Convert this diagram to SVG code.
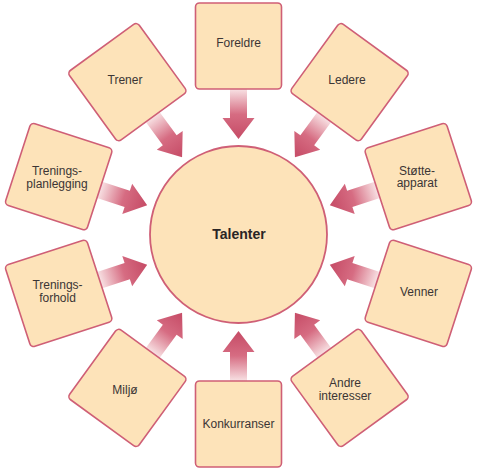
<svg xmlns="http://www.w3.org/2000/svg" width="480" height="476" viewBox="0 0 480 476">
  <style>
    .box { fill: #fde3b9; stroke: #cf5f76; stroke-width: 1.6; }
    .hub { fill: #fde3b9; stroke: #cf5f76; stroke-width: 1.8; }
    .lbl { font-family: "Liberation Sans", Arial, sans-serif; font-size: 12px; fill: #3b3535; text-anchor: middle; }
    .hubl { font-family: "Liberation Sans", Arial, sans-serif; font-size: 14px; font-weight: bold; fill: #2a2525; text-anchor: middle; }
    .arrow { fill: url(#ag); }
  </style>
  <defs>
    <linearGradient id="ag" gradientUnits="userSpaceOnUse" x1="0" y1="-146" x2="0" y2="-100">
      <stop offset="0" stop-color="#f8e2e4"/>
      <stop offset="0.55" stop-color="#d66c82"/>
      <stop offset="1" stop-color="#c8506a"/>
    </linearGradient>
    <path id="arr" d="M-8.5,-146 L8.5,-146 L8.5,-117 L16,-117 L0,-96 L-16,-117 L-8.5,-117 Z"/>
  </defs>
  <rect width="480" height="476" fill="#ffffff"/>

  <g id="connectors" transform="translate(238.5,235)">
    <use href="#arr" class="arrow" transform="rotate(0)"/>
    <use href="#arr" class="arrow" transform="rotate(36)"/>
    <use href="#arr" class="arrow" transform="rotate(72)"/>
    <use href="#arr" class="arrow" transform="rotate(108)"/>
    <use href="#arr" class="arrow" transform="rotate(144)"/>
    <use href="#arr" class="arrow" transform="rotate(180)"/>
    <use href="#arr" class="arrow" transform="rotate(216)"/>
    <use href="#arr" class="arrow" transform="rotate(252)"/>
    <use href="#arr" class="arrow" transform="rotate(288)"/>
    <use href="#arr" class="arrow" transform="rotate(324)"/>
  </g>

  <g id="talenter">
    <circle class="hub" cx="238.5" cy="234.5" r="88.5"/>
    <text class="hubl" x="239" y="239">Talenter</text>
  </g>

  <g id="foreldre">
    <rect class="box" x="-43" y="-43" width="86" height="86" rx="4" transform="translate(238.5,46)"/>
    <text class="lbl" x="238.5" y="47">Foreldre</text>
  </g>
  <g id="ledere">
    <rect class="box" x="-43" y="-43" width="86" height="86" rx="4" transform="translate(349.6,82.1) rotate(36)"/>
    <text class="lbl" x="347" y="84">Ledere</text>
  </g>
  <g id="stotteapparat">
    <rect class="box" x="-43" y="-43" width="86" height="86" rx="4" transform="translate(418.3,176.6) rotate(72)"/>
    <text class="lbl" x="417" y="174.5">Støtte-</text>
    <text class="lbl" x="417" y="187">apparat</text>
  </g>
  <g id="venner">
    <rect class="box" x="-43" y="-43" width="86" height="86" rx="4" transform="translate(418.3,293.4) rotate(108)"/>
    <text class="lbl" x="419" y="295.5">Venner</text>
  </g>
  <g id="andreinteresser">
    <rect class="box" x="-43" y="-43" width="86" height="86" rx="4" transform="translate(349.6,387.9) rotate(144)"/>
    <text class="lbl" x="345" y="387">Andre</text>
    <text class="lbl" x="345" y="400">interesser</text>
  </g>
  <g id="konkurranser">
    <rect class="box" x="-43" y="-43" width="86" height="86" rx="4" transform="translate(238.5,424)"/>
    <text class="lbl" x="238.5" y="427.5">Konkurranser</text>
  </g>
  <g id="miljo">
    <rect class="box" x="-43" y="-43" width="86" height="86" rx="4" transform="translate(127.4,387.9) rotate(216)"/>
    <text class="lbl" x="125" y="393.5">Miljø</text>
  </g>
  <g id="treningsforhold">
    <rect class="box" x="-43" y="-43" width="86" height="86" rx="4" transform="translate(58.7,293.4) rotate(252)"/>
    <text class="lbl" x="57.5" y="289">Trenings-</text>
    <text class="lbl" x="57.5" y="302">forhold</text>
  </g>
  <g id="treningsplanlegging">
    <rect class="box" x="-43" y="-43" width="86" height="86" rx="4" transform="translate(58.7,176.6) rotate(288)"/>
    <text class="lbl" x="57" y="174.5">Trenings-</text>
    <text class="lbl" x="57" y="187.5">planlegging</text>
  </g>
  <g id="trener">
    <rect class="box" x="-43" y="-43" width="86" height="86" rx="4" transform="translate(127.4,82.1) rotate(324)"/>
    <text class="lbl" x="125" y="83.5">Trener</text>
  </g>
</svg>
